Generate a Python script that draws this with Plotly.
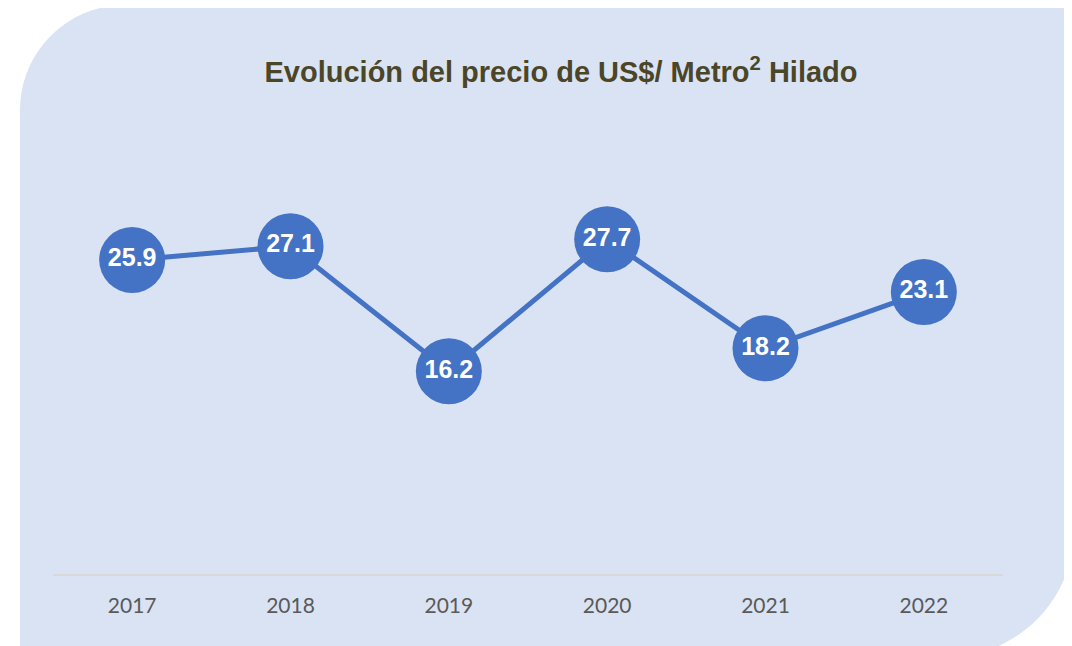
import plotly.graph_objects as go

years = ["2017", "2018", "2019", "2020", "2021", "2022"]
precio = [25.9, 27.1, 16.2, 27.7, 18.2, 23.1]
title_text = "<b>Evolución del precio de US$/ Metro<sup>2</sup> Hilado</b>"

# page body adds an 8px offset, so the figure is drawn 8px smaller
OFF = 8
W, H = 1072 - OFF, 646 - OFF
ML, MR, MT, MB = 53 - OFF, 69, 120 - OFF, 72
PW, PH = W - ML - MR, H - MT - MB

def px2paper(x, y):
    x -= OFF
    y -= OFF
    return (x - ML) / PW, (H - MB - y) / PH

def P(x, y):
    px, py = px2paper(x, y)
    return f"{px:.5f},{py:.5f}"

# background rounded panel (pixel geometry in window coords -> paper coords)
k = 0.5523
L, T, R, B = 20, 5, 1075, 658
r1, r2 = 105, 131
path = (
    f"M {P(L, T + r1)} "
    f"C {P(L, T + r1 - k*r1)} {P(L + r1 - k*r1, T)} {P(L + r1, T)} "
    f"L {P(R, T)} "
    f"L {P(R, B - r2)} "
    f"C {P(R, B - r2 + k*r2)} {P(R - r2 + k*r2, B)} {P(R - r2, B)} "
    f"L {P(L, B)} Z"
)

fig = go.Figure()
fig.add_trace(go.Scatter(
    x=years, y=precio,
    mode="lines+markers+text",
    line=dict(color="#4472C4", width=5),
    marker=dict(size=66, color="#4472C4", line=dict(width=0)),
    text=[f"{v:.1f}" for v in precio],
    textposition="middle center",
    textfont=dict(family="Liberation Sans, Arial", size=25, color="white", weight="bold"),
    cliponaxis=False,
    hoverinfo="skip",
))

fig.update_layout(
    width=W, height=H,
    margin=dict(l=ML, r=MR, t=MT, b=MB),
    paper_bgcolor="white",
    plot_bgcolor="rgba(0,0,0,0)",
    showlegend=False,
    shapes=[dict(type="path", path=path, xref="paper", yref="paper",
                 fillcolor="#DAE3F3", line=dict(width=0), layer="below")],
    title=dict(text=title_text, x=(561 - OFF) / W, xanchor="center",
               y=1 - (72 - OFF) / H, yanchor="middle",
               font=dict(family="Liberation Sans, Arial", size=29, color="#4B4628")),
    xaxis=dict(type="category", range=[-0.5, 5.5], showline=True, linecolor="#D9D9D9",
               linewidth=1.5, showgrid=False, zeroline=False, ticks="", ticklabelstandoff=12,
               tickfont=dict(family="Lato, Calibri, sans-serif", size=21, color="#595959")),
    yaxis=dict(range=[-1.47, 38.1], visible=False, showgrid=False, zeroline=False),
)

fig.write_html("out.html")
